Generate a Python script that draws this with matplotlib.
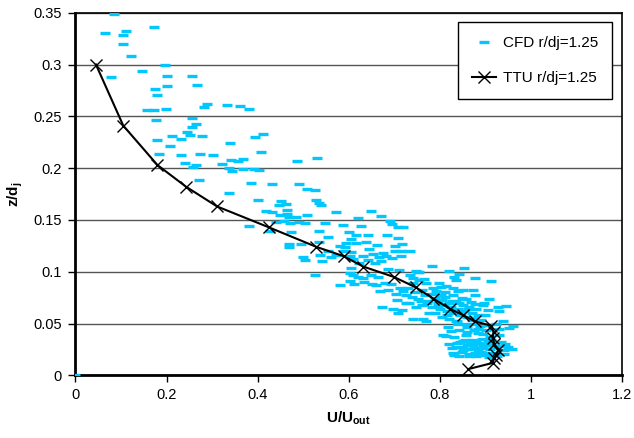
import matplotlib
matplotlib.use("Agg")
import matplotlib.pyplot as plt

plt.rcParams["font.family"] = ["Liberation Sans", "DejaVu Sans"]
plt.rcParams["mathtext.fontset"] = "custom"
plt.rcParams["mathtext.rm"] = "Liberation Sans"
plt.rcParams["mathtext.bf"] = "Liberation Sans:bold"

# TTU measurements r/dj=1.25
ttu_u = [0.045, 0.105, 0.180, 0.243, 0.311, 0.424, 0.529, 0.589, 0.632, 0.699, 0.747,
         0.786, 0.823, 0.852, 0.877, 0.913, 0.918, 0.916, 0.920, 0.928, 0.924, 0.920,
         0.916, 0.862]
ttu_z = [0.300, 0.241, 0.203, 0.182, 0.163, 0.143, 0.124, 0.115, 0.105, 0.095, 0.085,
         0.074, 0.064, 0.058, 0.052, 0.048, 0.042, 0.036, 0.030, 0.024, 0.020, 0.017,
         0.012, 0.006]

# CFD r/dj=1.25, sparse upper part
cfd_u_upper = [0.085, 0.065, 0.105, 0.112, 0.104, 0.173, 0.123, 0.078, 0.146, 0.196,
               0.202, 0.174, 0.178, 0.201, 0.255, 0.266, 0.157, 0.172, 0.198, 0.283,
               0.288, 0.332, 0.362, 0.381, 0.255, 0.177, 0.265, 0.256, 0.245, 0.211,
               0.231, 0.251, 0.277, 0.178, 0.208, 0.395, 0.412, 0.339, 0.184, 0.232,
               0.274, 0.302, 0.408, 0.240, 0.264, 0.259, 0.322, 0.341, 0.356, 0.369,
               0.337, 0.343, 0.368, 0.393, 0.402, 0.486, 0.530, 0.271, 0.386, 0.431,
               0.490, 0.508, 0.527, 0.337, 0.401, 0.451, 0.463, 0.448, 0.528, 0.535,
               0.539, 0.418, 0.431, 0.465, 0.465, 0.450, 0.469, 0.485, 0.509, 0.573,
               0.650, 0.671, 0.621, 0.691, 0.694, 0.708, 0.720, 0.380, 0.441, 0.457,
               0.471, 0.491, 0.428, 0.473, 0.504, 0.548, 0.587, 0.628, 0.534, 0.600,
               0.554]
cfd_z_upper = [0.349, 0.330, 0.328, 0.332, 0.320, 0.336, 0.308, 0.288, 0.294, 0.300,
               0.289, 0.276, 0.271, 0.279, 0.289, 0.280, 0.256, 0.256, 0.257, 0.259,
               0.262, 0.261, 0.260, 0.257, 0.248, 0.246, 0.243, 0.240, 0.235, 0.231,
               0.228, 0.232, 0.231, 0.227, 0.221, 0.230, 0.233, 0.224, 0.214, 0.213,
               0.214, 0.213, 0.216, 0.205, 0.203, 0.201, 0.204, 0.208, 0.207, 0.209,
               0.200, 0.197, 0.199, 0.199, 0.198, 0.207, 0.210, 0.189, 0.186, 0.185,
               0.185, 0.180, 0.179, 0.176, 0.169, 0.168, 0.165, 0.164, 0.169, 0.166,
               0.164, 0.159, 0.158, 0.160, 0.156, 0.155, 0.153, 0.153, 0.155, 0.158,
               0.159, 0.154, 0.152, 0.149, 0.146, 0.143, 0.143, 0.144, 0.148, 0.149,
               0.147, 0.148, 0.139, 0.138, 0.147, 0.147, 0.145, 0.144, 0.139, 0.138,
               0.134]

# CFD, middle band
cfd_u_mid = [0.470, 0.470, 0.496, 0.534, 0.595, 0.604, 0.615, 0.642, 0.685, 0.709,
             0.717, 0.701, 0.663, 0.581, 0.591, 0.617, 0.639, 0.555, 0.606, 0.589,
             0.644, 0.653, 0.675, 0.701, 0.715, 0.734, 0.682, 0.696, 0.714, 0.500,
             0.505, 0.538, 0.541, 0.562, 0.572, 0.602, 0.610, 0.631, 0.642, 0.666,
             0.671, 0.622, 0.606, 0.657, 0.686, 0.710, 0.748, 0.755, 0.783, 0.854,
             0.525, 0.602, 0.609, 0.620, 0.631, 0.649, 0.664, 0.602, 0.611, 0.633,
             0.652, 0.660, 0.580, 0.679, 0.693, 0.668, 0.686, 0.704, 0.719, 0.726,
             0.741, 0.755, 0.752, 0.707, 0.726, 0.674, 0.718, 0.821, 0.843, 0.734,
             0.741, 0.832, 0.836, 0.878, 0.913, 0.766, 0.769, 0.712, 0.799, 0.814,
             0.829, 0.840, 0.851, 0.872, 0.878, 0.785, 0.792, 0.803, 0.909, 0.894,
             0.898, 0.927, 0.946, 0.929, 0.697, 0.708, 0.763, 0.770, 0.741]
cfd_z_mid = [0.127, 0.124, 0.127, 0.129, 0.128, 0.132, 0.135, 0.135, 0.135, 0.133,
             0.127, 0.125, 0.126, 0.125, 0.124, 0.128, 0.129, 0.120, 0.119, 0.120,
             0.122, 0.117, 0.118, 0.120, 0.120, 0.120, 0.115, 0.113, 0.115, 0.114,
             0.111, 0.116, 0.110, 0.114, 0.116, 0.115, 0.112, 0.115, 0.111, 0.114,
             0.110, 0.108, 0.104, 0.108, 0.103, 0.102, 0.101, 0.100, 0.106, 0.104,
             0.097, 0.099, 0.097, 0.095, 0.094, 0.097, 0.095, 0.091, 0.088, 0.090,
             0.088, 0.087, 0.087, 0.089, 0.088, 0.081, 0.082, 0.079, 0.081, 0.078,
             0.089, 0.092, 0.100, 0.073, 0.070, 0.066, 0.063, 0.101, 0.098, 0.097,
             0.094, 0.095, 0.092, 0.094, 0.091, 0.093, 0.089, 0.084, 0.089, 0.086,
             0.084, 0.081, 0.082, 0.082, 0.078, 0.084, 0.081, 0.078, 0.074, 0.068,
             0.070, 0.066, 0.067, 0.062, 0.064, 0.060, 0.054, 0.052, 0.054]

# CFD, dense band near the wall
cfd_u_low = [0.730, 0.745, 0.760, 0.738, 0.752, 0.768, 0.775, 0.760, 0.782, 0.790,
             0.795, 0.805, 0.810, 0.800, 0.815, 0.820, 0.825, 0.830, 0.835, 0.840,
             0.845, 0.850, 0.855, 0.860, 0.865, 0.870, 0.875, 0.880, 0.885, 0.890,
             0.868, 0.848, 0.828, 0.812, 0.790, 0.805, 0.820, 0.838, 0.855, 0.872,
             0.888, 0.900, 0.905, 0.776, 0.748, 0.733, 0.960, 0.953, 0.938, 0.924,
             0.819, 0.843, 0.876, 0.902, 0.814, 0.832, 0.858, 0.883, 0.851, 0.880,
             0.806, 0.840, 0.860, 0.870, 0.885, 0.895, 0.905, 0.860, 0.825, 0.835,
             0.910, 0.930, 0.930, 0.820, 0.835, 0.845, 0.850, 0.860, 0.865, 0.870,
             0.875, 0.880, 0.885, 0.890, 0.895, 0.900, 0.905, 0.910, 0.915, 0.920,
             0.930, 0.940, 0.950, 0.958, 0.828, 0.842, 0.855, 0.872, 0.893, 0.908,
             0.935, 0.862, 0.883, 0.898, 0.925, 0.0,
             0.826, 0.838, 0.852, 0.866, 0.878, 0.892, 0.904, 0.918, 0.944, 0.832,
             0.848, 0.864, 0.878, 0.896, 0.912, 0.940, 0.815, 0.830, 0.846, 0.862,
             0.877, 0.795, 0.812, 0.826, 0.842, 0.858, 0.758, 0.772, 0.786, 0.802]
cfd_z_low = [0.084, 0.080, 0.082, 0.076, 0.074, 0.078, 0.072, 0.068, 0.066, 0.075,
             0.070, 0.073, 0.068, 0.064, 0.062, 0.070, 0.066, 0.060, 0.072, 0.064,
             0.058, 0.068, 0.062, 0.056, 0.066, 0.060, 0.055, 0.064, 0.058, 0.053,
             0.071, 0.075, 0.078, 0.080, 0.060, 0.056, 0.054, 0.052, 0.050, 0.050,
             0.048, 0.058, 0.063, 0.060, 0.066, 0.070, 0.048, 0.046, 0.052, 0.050,
             0.047, 0.044, 0.044, 0.044, 0.038, 0.037, 0.039, 0.041, 0.033, 0.033,
             0.039, 0.050, 0.047, 0.053, 0.045, 0.040, 0.049, 0.042, 0.043, 0.052,
             0.037, 0.045, 0.039, 0.030, 0.027, 0.032, 0.024, 0.029, 0.021, 0.034,
             0.026, 0.019, 0.031, 0.023, 0.028, 0.020, 0.033, 0.025, 0.030, 0.022,
             0.028, 0.024, 0.027, 0.025, 0.022, 0.019, 0.034, 0.029, 0.035, 0.018,
             0.032, 0.025, 0.024, 0.030, 0.019, 0.0,
             0.026, 0.031, 0.027, 0.032, 0.022, 0.026, 0.029, 0.027, 0.030, 0.020,
             0.023, 0.019, 0.033, 0.022, 0.034, 0.021, 0.058, 0.063, 0.060, 0.064,
             0.069, 0.067, 0.076, 0.072, 0.070, 0.074, 0.072, 0.070, 0.079, 0.085]

cfd_u = cfd_u_upper + cfd_u_mid + cfd_u_low
cfd_z = cfd_z_upper + cfd_z_mid + cfd_z_low

fig = plt.figure(figsize=(6.34, 4.38), dpi=100)
ax = fig.add_axes([0.119, 0.143, 0.862, 0.828])

ax.plot(cfd_u, cfd_z, linestyle="none", marker="_", markersize=6.5, markeredgewidth=2.4,
        color="#00c8ff", label="CFD r/dj=1.25", zorder=3)
ax.plot(ttu_u, ttu_z, color="black", linewidth=1.5, marker="x", markersize=8,
        markeredgewidth=1, label="TTU r/dj=1.25", zorder=4)

ax.set_xlim(0, 1.2)
ax.set_ylim(0, 0.35)
ax.set_xticks([0, 0.2, 0.4, 0.6, 0.8, 1.0, 1.2])
ax.set_xticklabels(["0", "0.2", "0.4", "0.6", "0.8", "1", "1.2"])
ax.set_yticks([0, 0.05, 0.1, 0.15, 0.2, 0.25, 0.3, 0.35])
ax.set_yticklabels(["0", "0.05", "0.1", "0.15", "0.2", "0.25", "0.3", "0.35"])
ax.tick_params(labelsize=10.5, direction="out", length=5, width=1)
ax.tick_params(axis="x", pad=4)
ax.tick_params(axis="y", pad=5)
ax.yaxis.grid(True, color="#555555", linewidth=1)
ax.set_axisbelow(True)
for s in ax.spines.values():
    s.set_linewidth(1.2)
    s.set_color("black")
ax.spines["left"].set_linewidth(2)
ax.spines["bottom"].set_linewidth(2)

ax.set_xlabel(r"$\mathbf{U/U_{out}}$", fontsize=11)
ax.set_ylabel(r"$\mathbf{z/d_j}$", fontsize=11)
ax.xaxis.set_label_coords(0.5, -0.095)
ax.yaxis.set_label_coords(-0.092, 0.5)

leg = ax.legend(loc="upper right", bbox_to_anchor=(0.995, 0.995), fontsize=11,
                frameon=True, fancybox=False, framealpha=1, edgecolor="black",
                borderpad=0.9, labelspacing=1.4, handlelength=1.6, handletextpad=0.4)
leg.get_frame().set_linewidth(1)

fig.savefig("out.png", dpi=100)
